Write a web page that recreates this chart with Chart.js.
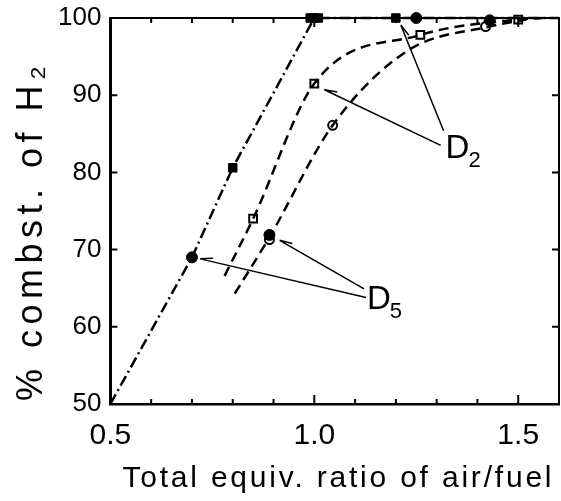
<!DOCTYPE html>
<html lang="en">
<head>
<meta charset="UTF-8">
<title>% combst. of H2</title>
<script src="https://cdn.jsdelivr.net/npm/chart.js"></script>
<style>
  html, body { margin: 0; padding: 0; background: #fff; overflow: hidden; }
  canvas { display: block; }
</style>
</head>
<body>
<canvas id="chart" width="561" height="501"></canvas>
<script>
// tick labels
const xTickLabels = ['0.5', '1.0', '1.5'];
const yTickLabels = ['50', '60', '70', '80', '90', '100'];
const xTitle = 'Total equiv. ratio of air/fuel';
const yTitle = '% combst. of H\u2082';

// dash-dot curve
const dashDotX = [0.5, 0.7, 0.8, 1.0, 1.6];
const dashDotY = [50, 69, 80.6, 100, 100];

// dashed curve through the open squares
const sqLineX = [0.78, 0.85, 1.0, 1.26, 1.5, 1.56];
const sqLineY = [66.6, 74, 91.5, 97.8, 99.8, 100];

// dashed curve through the open circles
const ciLineX = [0.805, 0.89, 1.045, 1.23, 1.43, 1.52];
const ciLineY = [64.3, 71.6, 86.1, 95.8, 98.9, 99.8];

// measured points
const filledSqX = [0.8, 0.99, 1.0, 1.01, 1.2];
const filledSqY = [80.6, 100, 100, 100, 100];
const filledCiX = [0.7, 0.89, 1.25, 1.43];
const filledCiY = [69, 71.9, 100, 99.7];
const openSqX = [0.85, 1.0, 1.26, 1.5];
const openSqY = [74, 91.5, 97.8, 99.8];
const openCiX = [0.89, 1.045, 1.42];
const openCiY = [71.3, 86.1, 98.9];

// D labels with leader lines (data coordinates)
const notes = [
    { sub: '2', textX: 1.322, textY: 81.9,
      lines: [[1.317, 85.4, 1.212, 99.1], [1.31, 83.5, 1.025, 90.7]] },
    { sub: '5', textX: 1.129, textY: 62.3,
      lines: [[1.127, 63.8, 0.72, 68.8], [1.122, 64.9, 0.915, 71.2]] }
];

const pts = (xs, ys) => xs.map((x, i) => ({ x: x, y: ys[i] }));
const FONT = '"Liberation Sans", Arial, sans-serif';

// inward tick marks on all four sides
const innerTicks = {
    id: 'innerTicks',
    afterDatasetsDraw(chart) {
        const ctx = chart.ctx, a = chart.chartArea;
        const xs = chart.scales.x, ys = chart.scales.y;
        ctx.save();
        ctx.strokeStyle = '#000';
        ctx.lineWidth = 2;
        ctx.beginPath();
        for (let i = 5; i <= 16; i++) {
            const px = xs.getPixelForValue(i / 10);
            const len = (i % 5 === 0) ? 9 : 5;
            ctx.moveTo(px, a.bottom); ctx.lineTo(px, a.bottom - len);
            ctx.moveTo(px, a.top); ctx.lineTo(px, a.top + len);
        }
        for (let v = 50; v <= 100; v += 10) {
            const py = ys.getPixelForValue(v);
            ctx.moveTo(a.left, py); ctx.lineTo(a.left + 7, py);
            ctx.moveTo(a.right, py); ctx.lineTo(a.right - 7, py);
        }
        ctx.stroke();
        // top and right frame
        ctx.beginPath();
        ctx.moveTo(a.left, a.top); ctx.lineTo(a.right, a.top); ctx.lineTo(a.right, a.bottom);
        ctx.stroke();
        ctx.restore();
    }
};

// D2 / D5 labels and leader lines
const leaders = {
    id: 'leaders',
    afterDatasetsDraw(chart) {
        const ctx = chart.ctx;
        const xs = chart.scales.x, ys = chart.scales.y;
        ctx.save();
        ctx.strokeStyle = '#000';
        ctx.fillStyle = '#000';
        ctx.lineWidth = 1.5;
        notes.forEach(n => {
            n.lines.forEach(l => {
                const fx = xs.getPixelForValue(l[0]), fy = ys.getPixelForValue(l[1]);
                const tx = xs.getPixelForValue(l[2]), ty = ys.getPixelForValue(l[3]);
                ctx.beginPath();
                ctx.moveTo(fx, fy); ctx.lineTo(tx, ty);
                const ang = Math.atan2(fy - ty, fx - tx);
                ctx.moveTo(tx + 13 * Math.cos(ang - 0.28), ty + 13 * Math.sin(ang - 0.28));
                ctx.lineTo(tx, ty);
                ctx.stroke();
            });
            const lx = xs.getPixelForValue(n.textX), ly = ys.getPixelForValue(n.textY);
            ctx.textBaseline = 'alphabetic';
            ctx.textAlign = 'left';
            ctx.font = '33px ' + FONT;
            ctx.fillText('D', lx, ly);
            const w = ctx.measureText('D').width;
            ctx.font = '22px ' + FONT;
            ctx.fillText(n.sub, lx + w - 1, ly + 9);
        });
        ctx.restore();
    }
};

// axis titles, widely spaced like the original lettering
const axisTitles = {
    id: 'axisTitles',
    afterDraw(chart) {
        const ctx = chart.ctx, a = chart.chartArea;
        ctx.save();
        ctx.fillStyle = '#000';
        ctx.textBaseline = 'alphabetic';
        ctx.textAlign = 'left';
        ctx.font = '30px ' + FONT;
        ctx.letterSpacing = '2.8px';
        ctx.fillText(xTitle, a.left + 12, chart.height - 14);
        ctx.translate(42, a.bottom - 3);
        ctx.rotate(-Math.PI / 2);
        ctx.font = '36px ' + FONT;
        ctx.letterSpacing = '5.5px';
        ctx.fillText(yTitle, 0, 0);
        ctx.restore();
    }
};

new Chart(document.getElementById('chart'), {
    type: 'scatter',
    data: {
        datasets: [
            { data: pts(dashDotX, dashDotY), showLine: true, borderColor: '#000', borderWidth: 2.5,
              borderDash: [11, 4, 2, 4], pointRadius: 0, tension: 0, clip: false },
            { data: pts(sqLineX, sqLineY), showLine: true, borderColor: '#000', borderWidth: 2.5,
              borderDash: [10, 6], pointRadius: 0, cubicInterpolationMode: 'monotone', clip: false },
            { data: pts(ciLineX, ciLineY), showLine: true, borderColor: '#000', borderWidth: 2.5,
              borderDash: [10, 6], pointRadius: 0, cubicInterpolationMode: 'monotone', clip: false },
            { data: pts(filledSqX, filledSqY), pointStyle: 'rect', pointRadius: 6,
              backgroundColor: '#000', borderColor: '#000', clip: false },
            { data: pts(filledCiX, filledCiY), pointStyle: 'circle', pointRadius: 5.5,
              backgroundColor: '#000', borderColor: '#000', clip: false },
            { data: pts(openSqX, openSqY), pointStyle: 'rect', pointRadius: 5.5, borderWidth: 2,
              backgroundColor: '#fff', borderColor: '#000', clip: false },
            { data: pts(openCiX, openCiY), pointStyle: 'circle', pointRadius: 4.5, borderWidth: 2,
              backgroundColor: '#fff', borderColor: '#000', clip: false }
        ]
    },
    options: {
        responsive: false,
        animation: false,
        layout: { autoPadding: false, padding: { left: 49, right: 2, top: 18, bottom: 33 } },
        plugins: { legend: { display: false }, tooltip: { enabled: false } },
        scales: {
            x: {
                min: 0.5, max: 1.6,
                border: { color: '#000', width: 2.5 },
                grid: { display: false, drawTicks: false },
                afterBuildTicks(scale) {
                    scale.ticks = xTickLabels.map(s => ({ value: parseFloat(s) }));
                },
                afterFit(scale) { scale.paddingLeft = 0; scale.paddingRight = 0; },
                ticks: {
                    color: '#000', padding: 14, maxRotation: 0, autoSkip: false,
                    font: { family: FONT, size: 30 },
                    callback: (v) => xTickLabels.find(s => Math.abs(parseFloat(s) - v) < 1e-6)
                }
            },
            y: {
                min: 50, max: 100,
                border: { color: '#000', width: 3 },
                grid: { display: false, drawTicks: false },
                afterBuildTicks(scale) {
                    scale.ticks = yTickLabels.map(s => ({ value: parseFloat(s) }));
                },
                afterFit(scale) { scale.paddingTop = 0; scale.paddingBottom = 0; },
                ticks: {
                    color: '#000', padding: 9, autoSkip: false,
                    font: { family: FONT, size: 26 },
                    callback: (v) => String(v)
                }
            }
        }
    },
    plugins: [innerTicks, leaders, axisTitles]
});
</script>
</body>
</html>
